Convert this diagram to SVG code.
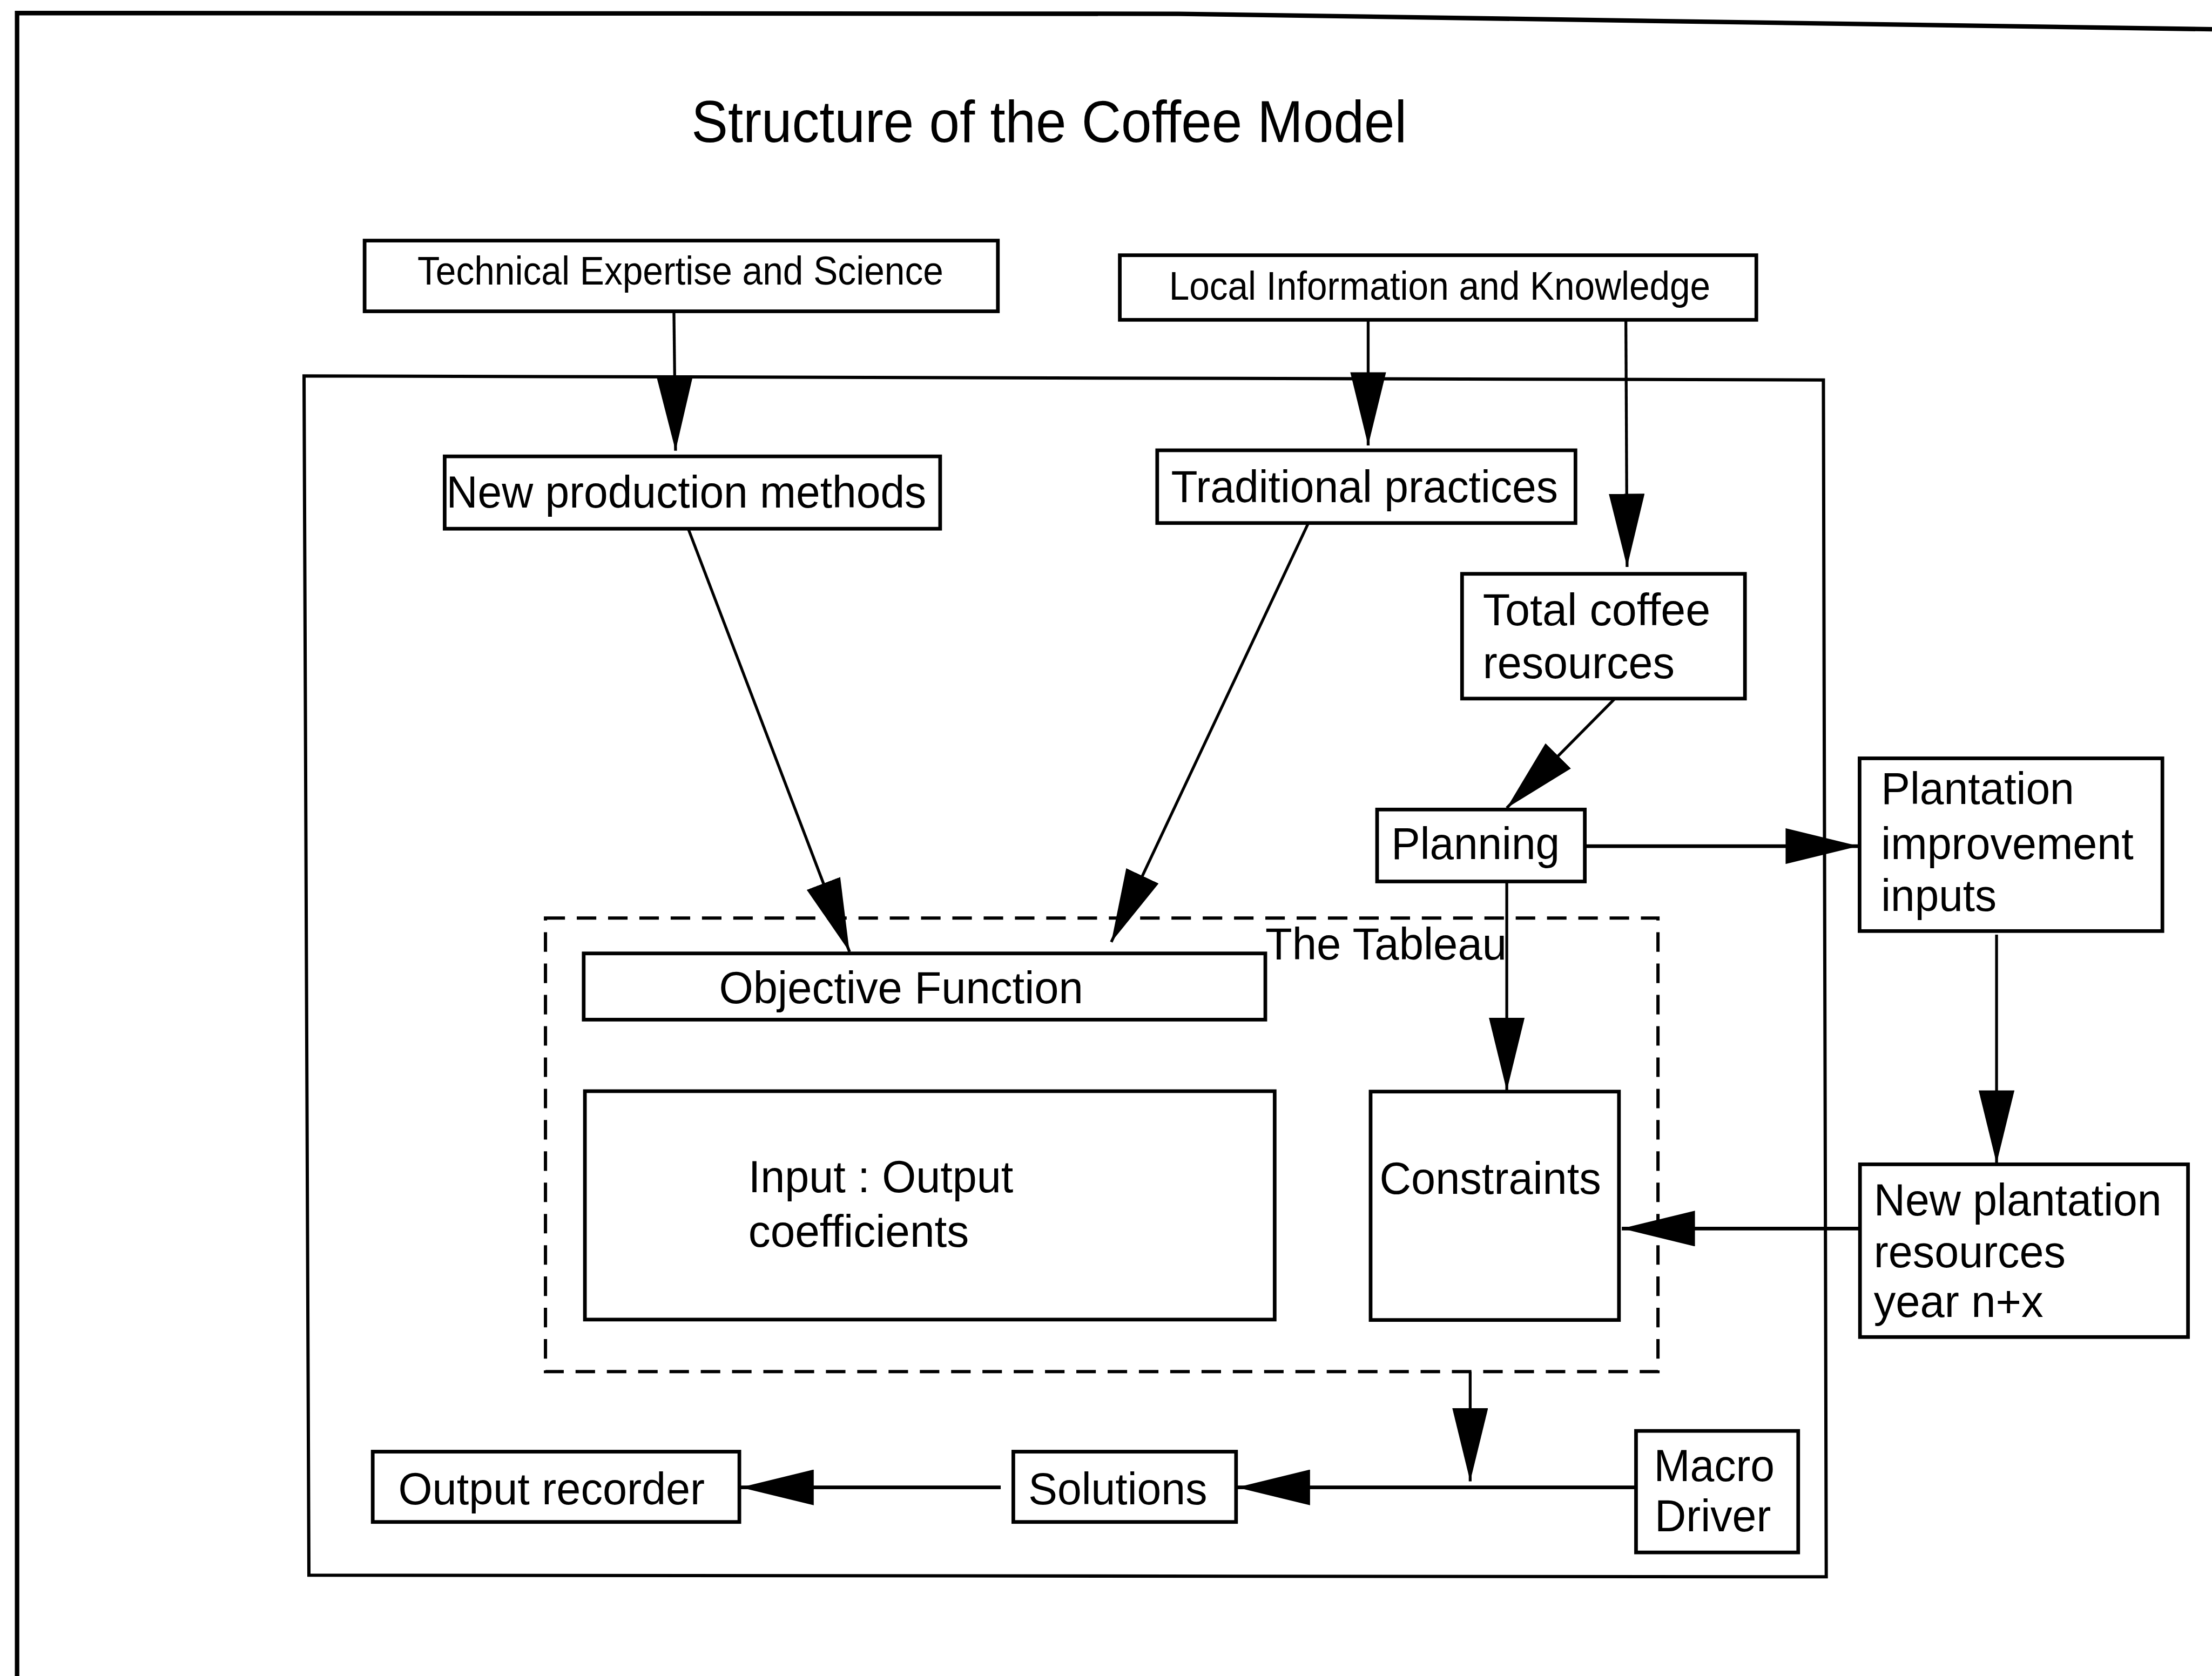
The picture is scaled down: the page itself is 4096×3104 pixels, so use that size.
<svg xmlns="http://www.w3.org/2000/svg" width="4096" height="3104" viewBox="0 0 4096 3104">
  <style>
    .box { fill: #ffffff; stroke: #000000; stroke-width: 9; }
    .frame { fill: none; stroke: #000000; stroke-width: 8; }
    .outer { fill: none; stroke: #000000; stroke-width: 11; }
    .dash { fill: none; stroke: #000000; stroke-width: 8; stroke-dasharray: 48 29; }
    .wire { fill: none; stroke: #000000; stroke-width: 7; marker-end: url(#head); }
    .wire.h { stroke-width: 9; }
    text { font-family: "Liberation Sans", Arial, Helvetica, sans-serif; fill: #000000; }
    .lbl { font-size: 112px; }
    .small { font-size: 98px; }
    .title { font-size: 146px; }
  </style>
  <defs>
    <marker id="head" markerUnits="userSpaceOnUse" viewBox="0 0 180 88" markerWidth="180" markerHeight="88" refX="180" refY="44" orient="auto">
      <path d="M0,0 L180,44 L0,88 Z" fill="#000000"/>
    </marker>
  </defs>
  <rect x="0" y="0" width="4096" height="3104" fill="#ffffff"/>
  <g transform="scale(0.75266)">
    <!-- page border -->
    <polyline class="outer" points="42,4124 42,32 2900,34 5442,72"/>
    <text class="title" x="1701" y="350" textLength="1760" lengthAdjust="spacingAndGlyphs">Structure of the Coffee Model</text>

    <!-- model boundary -->
    <polygon class="frame" points="748,925 4486,935 4493,3880 760,3876"/>

    <!-- tableau region -->
    <g id="tableau">
      <rect class="dash" x="1342" y="2259" width="2737" height="1116"/>
      <text class="lbl" x="3113" y="2361" textLength="594" lengthAdjust="spacingAndGlyphs">The Tableau</text>
    </g>

    <g id="technical">
      <rect class="box" x="897" y="592" width="1558" height="174"/>
      <text class="small" x="1027" y="700" textLength="1294" lengthAdjust="spacingAndGlyphs">Technical Expertise and Science</text>
    </g>
    <g id="local">
      <rect class="box" x="2755" y="628" width="1566" height="159"/>
      <text class="small" x="2876" y="737" textLength="1332" lengthAdjust="spacingAndGlyphs">Local Information and Knowledge</text>
    </g>
    <g id="new-methods">
      <rect class="box" x="1094" y="1123" width="1219" height="178"/>
      <text class="lbl" x="1098" y="1249" textLength="1181" lengthAdjust="spacingAndGlyphs">New production methods</text>
    </g>
    <g id="traditional">
      <rect class="box" x="2847" y="1108" width="1029" height="179"/>
      <text class="lbl" x="2881" y="1235" textLength="952" lengthAdjust="spacingAndGlyphs">Traditional practices</text>
    </g>
    <g id="total-coffee">
      <rect class="box" x="3597" y="1412" width="696" height="307"/>
      <text class="lbl" x="3648" y="1538" textLength="560" lengthAdjust="spacingAndGlyphs">Total coffee</text>
      <text class="lbl" x="3648" y="1669" textLength="472" lengthAdjust="spacingAndGlyphs">resources</text>
    </g>
    <g id="planning">
      <rect class="box" x="3388" y="1992" width="511" height="177"/>
      <text class="lbl" x="3423" y="2114" textLength="414" lengthAdjust="spacingAndGlyphs">Planning</text>
    </g>
    <g id="plantation-inputs">
      <rect class="box" x="4575" y="1866" width="745" height="425"/>
      <text class="lbl" x="4628" y="1978" textLength="475" lengthAdjust="spacingAndGlyphs">Plantation</text>
      <text class="lbl" x="4628" y="2114" textLength="621" lengthAdjust="spacingAndGlyphs">improvement</text>
      <text class="lbl" x="4628" y="2241" textLength="284" lengthAdjust="spacingAndGlyphs">inputs</text>
    </g>
    <g id="new-plantation">
      <rect class="box" x="4576" y="2865" width="807" height="425"/>
      <text class="lbl" x="4610" y="2991" textLength="708" lengthAdjust="spacingAndGlyphs">New plantation</text>
      <text class="lbl" x="4610" y="3118" textLength="472" lengthAdjust="spacingAndGlyphs">resources</text>
      <text class="lbl" x="4610" y="3240" textLength="417" lengthAdjust="spacingAndGlyphs">year n+x</text>
    </g>
    <g id="objective">
      <rect class="box" x="1436" y="2346" width="1677" height="163"/>
      <text class="lbl" x="1769" y="2468" textLength="896" lengthAdjust="spacingAndGlyphs">Objective Function</text>
    </g>
    <g id="coefficients">
      <rect class="box" x="1439" y="2685" width="1697" height="562"/>
      <text class="lbl" x="1841" y="2934" textLength="652" lengthAdjust="spacingAndGlyphs">Input : Output</text>
      <text class="lbl" x="1841" y="3068" textLength="543" lengthAdjust="spacingAndGlyphs">coefficients</text>
    </g>
    <g id="constraints">
      <rect class="box" x="3372" y="2686" width="611" height="562"/>
      <text class="lbl" x="3394" y="2938" textLength="545" lengthAdjust="spacingAndGlyphs">Constraints</text>
    </g>
    <g id="macro-driver">
      <rect class="box" x="4025" y="3521" width="399" height="299"/>
      <text class="lbl" x="4069" y="3645" textLength="297" lengthAdjust="spacingAndGlyphs">Macro</text>
      <text class="lbl" x="4071" y="3768" textLength="286" lengthAdjust="spacingAndGlyphs">Driver</text>
    </g>
    <g id="solutions">
      <rect class="box" x="2493" y="3572" width="548" height="173"/>
      <text class="lbl" x="2530" y="3702" textLength="440" lengthAdjust="spacingAndGlyphs">Solutions</text>
    </g>
    <g id="output-recorder">
      <rect class="box" x="917" y="3572" width="902" height="173"/>
      <text class="lbl" x="980" y="3702" textLength="754" lengthAdjust="spacingAndGlyphs">Output recorder</text>
    </g>

    <!-- connectors -->
    <g id="connectors">
      <path class="wire" d="M1658,767 L1662,1109"/>
      <path class="wire" d="M3366,788 L3366,1096"/>
      <path class="wire" d="M4000,788 L4003,1395"/>
      <path class="wire" d="M3971,1721 L3707,1988"/>
      <path class="wire h" d="M3900,2082 L4573,2082"/>
      <path class="wire" d="M1694,1303 L2090,2342"/>
      <path class="wire" d="M3218,1289 L2734,2318"/>
      <path class="wire" d="M3707,2169 L3707,2684"/>
      <path class="wire" d="M4912,2300 L4912,2863"/>
      <path class="wire h" d="M4576,3023 L3990,3023"/>
      <path class="wire" d="M3617,3375 L3617,3645"/>
      <path class="wire h" d="M4025,3660 L3043,3660"/>
      <path class="wire h" d="M2462,3660 L1822,3660"/>
    </g>
  </g>
</svg>
